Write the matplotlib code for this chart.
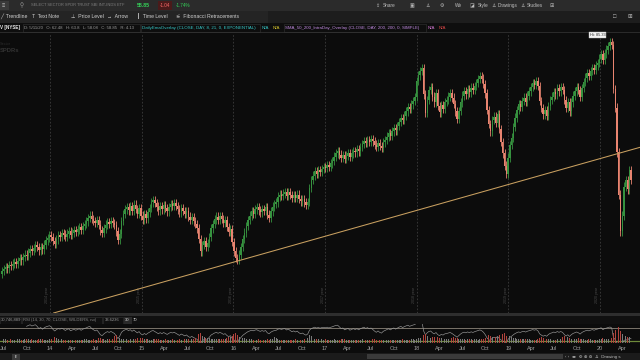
import numpy as np
import pandas as pd
import matplotlib
matplotlib.use("Agg")
import matplotlib.pyplot as plt
from matplotlib.patches import Rectangle

# ---------------- data (weekly closes) ----------------
first_open = 41.0
closes_2013 = [41.5, 41.9, 42.3, 42.0, 42.6, 42.4, 42.9,
               43.2, 42.8, 43.4, 43.9, 43.5, 44.2, 44.6,
               44.3, 45.0, 45.6, 45.3, 45.9, 46.4, 46.0,
               45.4, 46.1, 45.6, 46.5, 47.3, 47.8]
closes_2014 = [48.3, 48.0, 47.2, 46.6, 47.5, 48.2,
               48.0, 48.7, 48.4, 47.9, 48.6, 49.0, 48.3, 48.8, 49.2, 48.9,
               49.4, 49.8, 49.3, 50.0, 50.4, 50.9,
               51.6, 52.0, 51.4, 51.0, 50.6, 51.1, 50.3,
               49.2, 48.8, 49.6, 50.3,
               50.8, 50.5, 51.0, 50.6, 50.2,
               49.0, 47.4, 48.6,
               51.0, 52.3, 53.2, 53.6, 53.0,
               53.8, 52.9, 54.1, 53.3, 52.4, 53.5]
closes_2015 = [52.0, 51.2, 52.3, 51.5, 52.6, 53.4,
               54.5, 55.0, 54.4, 53.7,
               53.0, 53.8, 53.2, 54.0, 53.4, 52.8,
               53.6, 54.2, 53.9, 54.4, 53.8,
               53.2, 52.6, 53.4, 52.9, 52.3, 52.8,
               51.8, 51.2, 51.7, 50.9, 50.4, 49.6,
               47.6, 45.2, 46.4,
               47.2, 46.0, 46.8, 48.0, 49.6,
               50.4, 51.3, 51.8, 51.2, 51.9, 51.4, 50.6, 51.1,
               49.8, 48.9, 49.5]
closes_2016 = [47.0, 45.2, 44.0, 43.6, 44.6,
               46.0, 47.6, 48.8, 50.0, 51.2,
               52.0, 52.8, 52.4, 53.2, 53.6, 53.0, 52.6,
               53.3, 52.9, 53.6, 52.2, 51.6, 52.8, 53.7, 54.2,
               54.5, 55.6, 56.0, 55.7, 56.2,
               56.4, 55.8, 56.5, 55.9, 55.3, 55.9,
               55.4, 56.0, 55.2, 54.7, 55.1, 54.5, 54.0,
               54.6, 57.2, 58.8,
               59.6, 60.4, 60.0, 60.6, 60.3, 60.9, 61.2]
closes_2017 = [61.0, 61.6, 61.3, 61.9, 62.4,
               63.2, 63.8, 64.2, 63.6, 63.0, 63.5, 62.8, 63.4, 63.9, 63.2,
               63.8, 64.3, 64.0, 64.6, 64.2, 65.0,
               65.6, 66.2, 65.8, 66.4, 66.0, 66.6, 66.1,
               65.5, 65.0, 65.8, 65.2, 64.9, 65.9,
               66.4, 67.0, 67.6, 67.2, 68.0, 68.6, 68.2, 69.0,
               69.8, 70.5, 70.1, 71.0,
               71.8, 72.6, 72.2, 73.1, 73.8, 74.5]
closes_2018 = [77.5, 78.6, 79.5, 80.0,
               75.0, 71.5,
               74.0, 75.8, 76.4, 74.6, 73.5, 75.2,
               72.8, 71.6, 73.0, 72.2, 73.6, 74.0,
               74.6, 75.2, 74.4, 73.2, 71.8, 70.4, 71.9,
               73.5, 74.8, 75.6, 75.0, 76.0, 75.4, 76.3, 75.8, 76.6, 77.2,
               77.9, 78.5, 78.0, 77.0, 75.2, 72.0,
               69.4, 68.0, 70.2, 70.8, 69.6, 71.2, 68.4,
               66.0, 63.8, 61.5, 59.9]
closes_2019 = [63.0, 65.4, 66.8,
               68.8, 70.6, 72.0, 73.2, 72.6, 73.8,
               74.4, 73.6, 74.8,
               75.6, 76.4, 77.2, 76.8, 77.5, 76.6, 73.8,
               72.4, 71.2, 72.0, 71.0,
               72.8, 74.0, 74.6, 75.5, 75.0, 76.2, 75.6, 76.4, 75.8,
               74.0, 72.4, 73.6, 71.8, 73.5, 74.8,
               75.6, 76.4, 75.8, 74.6, 76.2, 77.4,
               78.2, 79.0, 78.5, 79.4, 80.0, 79.6, 80.5, 81.0]
closes_2020 = [81.8, 82.6, 81.5, 82.8, 83.5,
               84.2, 84.9, 84.4,
               76.0, 72.5, 64.0, 56.0, 49.0, 52.0, 57.5, 58.8, 57.0, 60.6, 58.85]

volume_2013 = [62, 55, 48, 44, 41, 46, 43, 40, 45, 50, 47, 42, 44, 48, 52, 46, 43, 45,
               41, 44, 39, 52, 47, 45, 42, 40, 38]
volume_2014 = [50, 47, 66, 72, 58, 49, 45, 47, 44, 42, 46, 44, 40, 43, 41, 39, 42, 44,
               38, 40, 45, 47, 43, 41, 44, 48, 40, 42, 61, 66, 52, 45, 43, 46, 50, 48,
               54, 85, 104, 70, 58, 50, 46, 44, 48, 42, 52, 56, 49, 55, 60, 47]
volume_2015 = [58, 62, 55, 50, 47, 44, 42, 46, 48, 50, 45, 43, 41, 44, 47, 40, 38, 42,
               45, 41, 39, 43, 46, 44, 48, 50, 47, 52, 49, 51, 55, 58, 74, 110, 132, 88,
               72, 68, 64, 60, 55, 52, 49, 47, 45, 50, 48, 46, 52, 66, 78, 70]
volume_2016 = [92, 110, 124, 98, 80, 72, 66, 60, 55, 50, 48, 46, 44, 47, 42, 45, 43, 41,
               40, 44, 46, 43, 48, 52, 70, 64, 48, 44, 42, 40, 38, 41, 39, 37, 42, 44,
               46, 43, 45, 41, 44, 47, 50, 58, 96, 84, 62, 55, 52, 48, 50, 46, 44]
volume_2017 = [46, 44, 42, 40, 43, 45, 41, 39, 44, 47, 50, 46, 42, 40, 38, 41, 44, 39,
               37, 40, 42, 45, 43, 41, 39, 44, 48, 52, 46, 42, 40, 38, 41, 43, 45, 42,
               40, 39, 37, 41, 44, 42, 40, 43, 46, 44, 41, 39, 42, 45, 47, 44]
volume_2018 = [52, 58, 62, 60, 98, 120, 84, 70, 64, 72, 80, 68, 74, 66, 60, 58, 55, 52,
               50, 54, 62, 70, 66, 58, 52, 48, 50, 46, 44, 47, 50, 45, 43, 46, 48, 44,
               47, 50, 56, 66, 92, 104, 86, 80, 88, 76, 82, 96, 108, 118, 126, 90]
volume_2019 = [98, 86, 72, 64, 58, 54, 50, 48, 46, 50, 52, 48, 46, 44, 42, 40, 43, 46,
               62, 74, 68, 60, 56, 50, 48, 46, 44, 42, 45, 48, 50, 72, 84, 70, 78, 64,
               56, 52, 50, 54, 58, 52, 48, 46, 44, 42, 45, 47, 44, 41, 40, 43]
volume_2020 = [50, 56, 60, 52, 48, 46, 50, 58, 132, 170, 205, 196, 150, 120, 96, 84, 78, 70, 64]

start_date = "2013-06-24"
tick_dates = ["2013-07-01", "2013-10-01", "2014-01-01", "2014-04-01", "2014-07-01", "2014-10-01",
              "2015-01-01", "2015-04-01", "2015-07-01", "2015-10-01", "2016-01-01", "2016-04-01",
              "2016-07-01", "2016-10-01", "2017-01-01", "2017-04-01", "2017-07-01", "2017-10-01",
              "2018-01-01", "2018-04-01", "2018-07-01", "2018-10-01", "2019-01-01", "2019-04-01",
              "2019-07-01", "2019-10-01", "2020-01-01", "2020-04-01"]
tick_labels = ["Jul", "Oct", "14", "Apr", "Jul", "Oct", "15", "Apr", "Jul", "Oct", "16", "Apr",
               "Jul", "Oct", "17", "Apr", "Jul", "Oct", "18", "Apr", "Jul", "Oct", "19", "Apr",
               "Jul", "Oct", "20", "Apr"]
year_dates = ["2014-01-01", "2015-01-01", "2016-01-01", "2017-01-01", "2018-01-01",
              "2019-01-01", "2020-01-01"]
year_labels = ["2014 year", "2015 year", "2016 year", "2017 year", "2018 year",
               "2019 year", "2020 year"]
trend_dates = ["2016-01-04", "2018-12-24"]
trend_prices = [43.2, 57.8]
high_label = "Hi: 85.33"

# ---------------- derived ----------------
closes = np.array(closes_2013 + closes_2014 + closes_2015 + closes_2016 +
                  closes_2017 + closes_2018 + closes_2019 + closes_2020)
volume = np.array(volume_2013 + volume_2014 + volume_2015 + volume_2016 +
                  volume_2017 + volume_2018 + volume_2019 + volume_2020, dtype=float)
n = min(len(closes), len(volume))
closes = closes[:n]
volume = volume[:n]
opens = np.concatenate([[first_open], closes[:-1]])
x = np.arange(n, dtype=float)
t0 = pd.Timestamp(start_date)


def wk(d):
    return (pd.Timestamp(d) - t0).days / 7.0


wick = 0.8
highs = np.maximum(opens, closes) + wick
lows = np.minimum(opens, closes) - wick
up = closes >= opens

# Wilder RSI(14)
delta = np.diff(closes, prepend=first_open)
gain = np.clip(delta, 0, None)
loss = np.clip(-delta, 0, None)
rsi = np.full(n, np.nan)
ag = gain[:14].mean()
al = loss[:14].mean()
for i in range(14, n):
    ag = (ag * 13 + gain[i]) / 14
    al = (al * 13 + loss[i]) / 14
    rsi[i] = 100 - 100 / (1 + ag / al) if al > 0 else 100

# ---------------- figure ----------------
W, H = 640, 360
BG = "#0c0c0c"
fig = plt.figure(figsize=(6.4, 3.6), dpi=100, facecolor=BG)
FAM = ["Liberation Sans", "DejaVu Sans"]


def R(x0, y0, w, h, fc, ec="none", lw=0.4, z=-5):
    fig.add_artist(Rectangle((x0 / W, 1 - (y0 + h) / H), w / W, h / H,
                             transform=fig.transFigure, facecolor=fc,
                             edgecolor=ec, lw=lw, zorder=z))


def T(x0, y0, s, color, size, ha="left", **kw):
    fig.text(x0 / W, 1 - y0 / H, s, color=color, fontsize=size, ha=ha,
             va="center", family=FAM, **kw)


# header rows
R(0, 0, 640, 11, "#2b2b2b")
R(0, 11, 640, 12, "#1d1d1d")
R(0, 11, 268, 12, "#242424")
R(0, 23, 640, 10, "#0e0e0e")
R(0, 22.6, 640, 0.6, "#333333", z=-4)
R(0, 32.4, 640, 0.6, "#2a2a2a", z=-4)

# row 1
R(0, 1, 9, 9, "#3a3a3a")
T(1.5, 5.5, "≡", "#bdbdbd", 4)
T(20, 5.5, "⚲", "#9a9a9a", 4)
T(31, 5.5, "SELECT SECTOR SPDR TRUST SBI INT-INDS ETF", "#7d7d7d", 2.9)
T(137, 5.5, "58.85", "#34d058", 3.8, fontweight="bold")
R(158, 1.5, 14, 8, "#4a1a1a")
T(160, 5.5, "-1.04", "#ff6b6b", 3.3)
T(176, 5.5, "-1.74%", "#34d058", 3.3)
for xx, s in [(383, "Share"), (455, "We"), (478, "Style"), (498, "Drawings"), (527, "Studies")]:
    T(xx, 5.5, s, "#bdbdbd", 3.4)
for xx, s in [(375, "⇪"), (410, "▣"), (425, "♙"), (440, "⚙"), (470, "◪"), (491, "♙"), (520, "♙"), (550, "⊞")]:
    T(xx, 5.5, s, "#bdbdbd", 3.6)

# row 2 toolbar
for xx, s in [(0, "╱  Trendline"), (32, "T  Text Note"), (71, "⊥  Price Level"),
              (107, "→  Arrow"), (137, "┃  Time Level"), (176, "⚟  Fibonacci Retracements")]:
    T(xx, 16.5, s, "#cfcfcf", 3.7)
T(613, 16.5, "□", "#bdbdbd", 4)
T(627, 16.5, "⊞", "#bdbdbd", 4)

# row 3 study line
T(0, 27.7, "V [NYSE]", "#e8e8e8", 3.3, fontweight="bold")
R(23, 24, 117, 7.5, "none", ec="#333333", z=-3)
T(24, 27.7, "D: 5/11/20   O: 62.48   H: 63.8   L: 58.08   C: 58.85   R: 4.13", "#9a9a9a", 3.1)
R(141, 24, 119, 7.5, "none", ec="#333333", z=-3)
T(142, 27.7, "DailyEmaOverlay (CLOSE, DAY, 8, 21, 0, EXPONENTIAL)", "#35c6c6", 3.2)
T(262, 27.7, "N/A", "#35c6c6", 3.2)
T(273, 27.7, "N/A", "#d8c62c", 3.2)
R(284, 24, 142, 7.5, "none", ec="#333333", z=-3)
T(285, 27.7, "SMA_50_200_IntraDay_Overlay (CLOSE, DAY, 200, 200, 0, SIMPLE)", "#c08ae0", 3.2)
T(428, 27.7, "N/A", "#d47ad4", 3.2)
T(439, 27.7, "N/A", "#e04848", 3.2)
T(0, 44, "Sector", "#2a2a2a", 2.8)
T(0, 50, "SPDRs", "#333333", 4.2, fontweight="bold")

# price panel
ax = fig.add_axes([0, (H - 313) / H, 1, (313 - 33) / H], facecolor=BG)
ax.set_xlim(-1.14, 363.1)
ax.set_ylim(33.53, 86.66)
ax.axis("off")
for d, lab in zip(year_dates, year_labels):
    xv = wk(d)
    ax.axvline(xv, color="#3c3c3c", lw=0.6, ls=(0, (2, 2)), zorder=1)
    ax.text(xv - 1.4, 35.4, lab, rotation=90, color="#4a4a4a", fontsize=2.6,
            ha="center", va="bottom", family=FAM)
col_up, col_dn = "#36923f", "#e98470"
cols = np.where(up, col_up, col_dn)
ax.vlines(x, lows, highs, colors=cols, lw=0.6, zorder=3)
body_lo = np.minimum(opens, closes)
body_h = np.maximum(np.abs(closes - opens), 0.25)
ax.bar(x, body_h, bottom=body_lo, width=0.8, color=cols, lw=0, zorder=4)
ax.axline((wk(trend_dates[0]), trend_prices[0]), (wk(trend_dates[1]), trend_prices[1]),
          color="#c9a060", lw=0.75, zorder=5)
imax = int(np.argmax(highs))
ax.annotate(high_label, (x[imax], highs[imax]), xytext=(-9, 2.5), textcoords="offset points",
            ha="center", va="center", fontsize=2.8, color="#222222", family=FAM,
            bbox=dict(boxstyle="square,pad=0.25", fc="#f2f2f2", ec="#bbbbbb", lw=0.3), zorder=6)

# separator + lower header
R(0, 313, 640, 3, "#2e2e2e", z=-4)
R(0, 316, 640, 8, "#101010", z=-4)
R(0, 316.5, 21, 7, "none", ec="#333333", z=-3)
T(0.5, 320, "30,746,889", "#9a9a9a", 3.0)
R(22, 316.5, 80, 7, "none", ec="#333333", z=-3)
T(23, 320, "RSI (14, 30, 70, CLOSE, WILDERS, no)", "#8a8a8a", 3.0)
R(103, 316.5, 20, 7, "none", ec="#333333", z=-3)
T(104.5, 320, "33.6236", "#9a9a9a", 3.0)
R(124, 316.5, 8, 7, "#2a2a2a", z=-3)
T(125, 320, "30", "#e0e0e0", 3.0)
T(133, 320, "70", "#e0e0e0", 3.0)

# lower panel: RSI + volume
ax2 = fig.add_axes([0, (H - 343) / H, 1, (343 - 324) / H], facecolor=BG)
ax2.set_xlim(-1.14, 363.1)
ax2.set_ylim(23.8, 82.3)
for s in ax2.spines.values():
    s.set_visible(False)
ax2.set_yticks([])
ax3 = ax2.twinx()
ax3.set_ylim(0, 240)
ax3.axis("off")
vcols = np.where(up, "#7a7a7a", "#b0433d")
ax3.bar(x, volume, width=0.5, color=vcols, lw=0, zorder=2)
ax2.axhline(70, color="#7a746a", lw=0.7, zorder=1)
ax2.axhline(30, color="#6e8a3a", lw=0.9, zorder=1)
ax2.plot(x, rsi, color="#9a9a9a", lw=0.45, zorder=3)
ax2.set_xticks([wk(d) for d in tick_dates])
ax2.set_xticklabels(tick_labels)
ax2.tick_params(axis="x", length=0, pad=2.2, labelsize=4.0, colors="#a0a0a0")
for lab in ax2.get_xticklabels():
    lab.set_family(FAM)

# bottom bar
R(0, 353, 640, 7, "#1b1b1b", z=-4)
R(12, 353.5, 8, 6, "#3a3a3a", z=-3)
T(13.5, 356.5, "⇞", "#cfcfcf", 3.2)
R(367, 354, 196, 5, "#3a3a3a", z=-3)
T(565, 356.5, "‹ ›  ◂▸  ⚙ ⊕ ⊖  ♙  Drawing s", "#bdbdbd", 3.2)

fig.savefig("out.png", dpi=100, facecolor=BG)
